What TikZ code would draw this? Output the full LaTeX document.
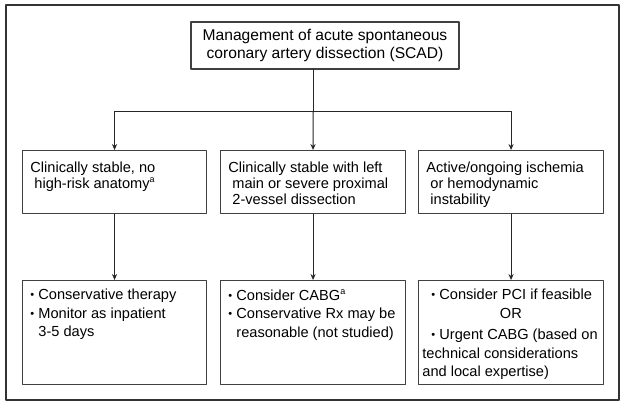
\documentclass[tikz,border=0pt]{standalone}
\usepackage{fontspec}
\setmainfont{Liberation Sans}
\usetikzlibrary{positioning}
\usetikzlibrary{calc}
\usetikzlibrary{arrows.meta}

% small bullet for the lists
\newcommand{\bul}{\makebox[4pt][l]{\fontsize{5.5}{5.5}\selectfont\raisebox{0.6pt}{•}}}

\begin{document}
\begin{tikzpicture}[x=1pt, y=1pt, line cap=round, line join=round,
    box/.style={draw=black!75, line width=0.55pt, inner sep=0pt},
    txt/.style={inner sep=0pt, anchor=north west, align=left, font=\fontsize{7.3}{8}\selectfont},
    listtxt/.style={txt, font=\fontsize{7.3}{9.25}\selectfont},
    arr/.style={-{Stealth[length=3pt, width=2.6pt]}, line width=0.5pt, draw=black!85}]

    \useasboundingbox (0,0) rectangle (313,203.5);

    % outer frame
    \draw[black!80, line width=0.75pt] (3,3.5) rectangle (309.5,201);

    % top box
    \node[box, minimum width=134pt, minimum height=23.5pt, align=center,
          font=\fontsize{7.8}{9.3}\selectfont] (top) at (162.5,180.75)
          {Management of acute spontaneous\\coronary artery dissection (SCAD)};

    % second row: clinical situation
    \node[box, anchor=north west, minimum width=92pt, minimum height=31.5pt] (stable) at (11,128.5) {};
    \node[box, anchor=north west, minimum width=92.5pt, minimum height=31.5pt] (leftmain) at (110,128.5) {};
    \node[box, anchor=north west, minimum width=92.5pt, minimum height=31.5pt] (ischemia) at (209,128.5) {};

    \node[txt] (stable-t) at ($(stable.north west)+(4,-6)$)
          {Clinically stable, no\\\hspace*{2pt}high-risk anatomy\textsuperscript{\fontsize{4.5}{4.5}\selectfont a}};
    \node[txt] (leftmain-t) at ($(leftmain.north west)+(4,-6)$)
          {Clinically stable with left\\\hspace*{2pt}main or severe proximal\\\hspace*{2pt}2-vessel dissection};
    \node[txt] (ischemia-t) at ($(ischemia.north west)+(4,-6)$)
          {Active/ongoing ischemia\\\hspace*{2pt}or hemodynamic\\\hspace*{2pt}instability};

    % third row: treatment
    \node[box, anchor=north west, minimum width=92pt, minimum height=52pt] (consv) at (11,63.5) {};
    \node[box, anchor=north west, minimum width=92.5pt, minimum height=52pt] (cabg) at (110,63.5) {};
    \node[box, anchor=north west, minimum width=92.5pt, minimum height=52pt] (pci) at (209,63.5) {};

    \node[listtxt] (consv-t) at ($(consv.north west)+(4,-4.5)$)
          {\bul Conservative therapy\\\bul Monitor as inpatient\\\hspace*{4pt}3-5 days};
    \node[listtxt] (cabg-t) at ($(cabg.north west)+(4,-4.5)$)
          {\bul Consider CABG\textsuperscript{\fontsize{4.5}{4.5}\selectfont a}\\\bul Conservative Rx may be\\\hspace*{4pt}reasonable (not studied)};
    \node[listtxt] (pci-t) at ($(pci.north west)+(2,-4.5)$)
          {\hspace*{4.5pt}\bul Consider PCI if feasible\\
           \makebox[88.5pt]{OR}\\[1.5pt]
           \hspace*{4.5pt}\bul Urgent CABG (based on\\
           technical considerations\\
           and local expertise)};

    % connectors
    \coordinate (bar) at (156.5,147.5);
    \draw[line width=0.5pt, black!85] (bar |- top.south) -- (bar);
    \draw[arr] (bar) -| (stable.north);
    \draw[arr] (bar) -- (leftmain.north);
    \draw[arr] (bar) -| (ischemia.north);

    \draw[arr] (stable.south) -- (consv.north);
    \draw[arr] (leftmain.south) -- (cabg.north);
    \draw[arr] (ischemia.south) -- (pci.north);
\end{tikzpicture}
\end{document}
